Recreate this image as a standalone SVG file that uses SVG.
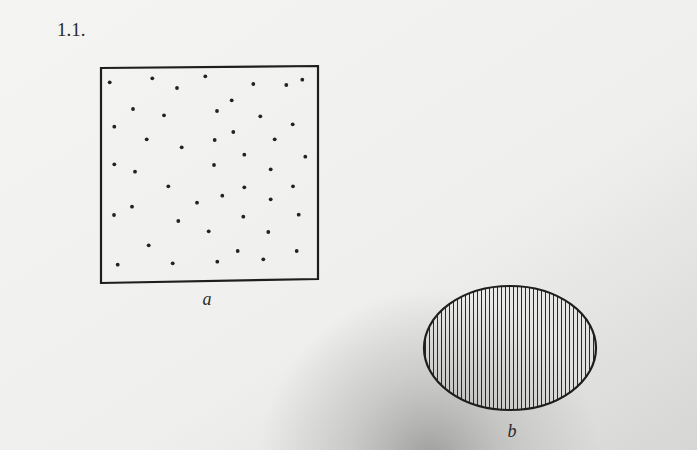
<svg xmlns="http://www.w3.org/2000/svg" width="697" height="450" viewBox="0 0 697 450">
<style>
.lbl{font-family:'Liberation Serif','DejaVu Serif',serif;fill:#2a2a2a}
.dot{fill:#222}
.frame{fill:none;stroke:#1e1e1e;stroke-width:2.2}
</style>
<defs>
<linearGradient id="bg" x1="0" y1="0" x2="1" y2="1">
<stop offset="0" stop-color="#f4f4f2"/>
<stop offset="0.6" stop-color="#efefed"/>
<stop offset="1" stop-color="#d6d6d4"/>
</linearGradient>
<radialGradient id="shade" gradientUnits="userSpaceOnUse" cx="430" cy="460" r="170">
<stop offset="0" stop-color="#9a9a98" stop-opacity="0.95"/>
<stop offset="0.5" stop-color="#b0b0ae" stop-opacity="0.5"/>
<stop offset="1" stop-color="#b0b0ae" stop-opacity="0"/>
</radialGradient>
<pattern id="hatch" patternUnits="userSpaceOnUse" width="4" height="10" x="424">
<line x1="1.5" y1="0" x2="1.5" y2="10" stroke="#2a2a2a" stroke-width="1"/>
</pattern>
<clipPath id="ec"><ellipse cx="510" cy="348" rx="86" ry="62"/></clipPath>
</defs>
<rect x="0" y="0" width="697" height="450" fill="url(#bg)"/>
<rect x="0" y="0" width="697" height="450" fill="url(#shade)"/>
<g id="title"><text class="lbl" font-family="Liberation Serif, DejaVu Serif, serif" x="57" y="36" font-size="19">1.1.</text></g>
<g id="square">
<polygon class="frame" points="101,68 318,66 318,279 101,283"/>
<g>
<circle class="dot" cx="109.7" cy="82.3" r="1.9"/><circle class="dot" cx="152.3" cy="78.3" r="1.9"/><circle class="dot" cx="205.3" cy="76.3" r="1.9"/><circle class="dot" cx="177" cy="88" r="1.9"/><circle class="dot" cx="253.3" cy="84" r="1.9"/><circle class="dot" cx="286.3" cy="85" r="1.9"/><circle class="dot" cx="302.3" cy="79.7" r="1.9"/><circle class="dot" cx="231.7" cy="100.3" r="1.9"/><circle class="dot" cx="133" cy="109" r="1.9"/><circle class="dot" cx="164" cy="115.3" r="1.9"/><circle class="dot" cx="217" cy="111" r="1.9"/><circle class="dot" cx="260.3" cy="116.3" r="1.9"/><circle class="dot" cx="114.3" cy="126.7" r="1.9"/><circle class="dot" cx="292.7" cy="124.3" r="1.9"/><circle class="dot" cx="233.3" cy="132" r="1.9"/><circle class="dot" cx="146.7" cy="139.3" r="1.9"/><circle class="dot" cx="214.7" cy="140" r="1.9"/><circle class="dot" cx="274.7" cy="139.3" r="1.9"/><circle class="dot" cx="181.7" cy="147.3" r="1.9"/><circle class="dot" cx="244.3" cy="154.7" r="1.9"/><circle class="dot" cx="305.3" cy="156.7" r="1.9"/><circle class="dot" cx="114.3" cy="164.3" r="1.9"/><circle class="dot" cx="214" cy="165" r="1.9"/><circle class="dot" cx="135" cy="171.7" r="1.9"/><circle class="dot" cx="270.7" cy="169.3" r="1.9"/><circle class="dot" cx="168.3" cy="186.3" r="1.9"/><circle class="dot" cx="244.3" cy="187.3" r="1.9"/><circle class="dot" cx="293" cy="186.3" r="1.9"/><circle class="dot" cx="222.3" cy="195.7" r="1.9"/><circle class="dot" cx="197" cy="202.7" r="1.9"/><circle class="dot" cx="270.7" cy="199.3" r="1.9"/><circle class="dot" cx="132" cy="206.7" r="1.9"/><circle class="dot" cx="114" cy="215" r="1.9"/><circle class="dot" cx="298.7" cy="214.7" r="1.9"/><circle class="dot" cx="243.3" cy="216.7" r="1.9"/><circle class="dot" cx="178.3" cy="221" r="1.9"/><circle class="dot" cx="208.7" cy="231.3" r="1.9"/><circle class="dot" cx="268.3" cy="232" r="1.9"/><circle class="dot" cx="148.7" cy="245.3" r="1.9"/><circle class="dot" cx="237.7" cy="251" r="1.9"/><circle class="dot" cx="296.7" cy="251" r="1.9"/><circle class="dot" cx="117.7" cy="264.7" r="1.9"/><circle class="dot" cx="172.7" cy="263.3" r="1.9"/><circle class="dot" cx="217.3" cy="261.7" r="1.9"/><circle class="dot" cx="263.3" cy="259.3" r="1.9"/>
</g>
<text class="lbl" font-family="Liberation Serif, DejaVu Serif, serif" x="207" y="305" font-size="18" font-style="italic" text-anchor="middle">a</text>
</g>
<g id="ellipse">
<rect x="420" y="280" width="180" height="135" fill="url(#hatch)" clip-path="url(#ec)"/>
<ellipse cx="510" cy="348" rx="86" ry="62" fill="none" stroke="#1e1e1e" stroke-width="2.2"/>
<text class="lbl" font-family="Liberation Serif, DejaVu Serif, serif" x="512" y="437" font-size="18" font-style="italic" text-anchor="middle">b</text>
</g>
</svg>
